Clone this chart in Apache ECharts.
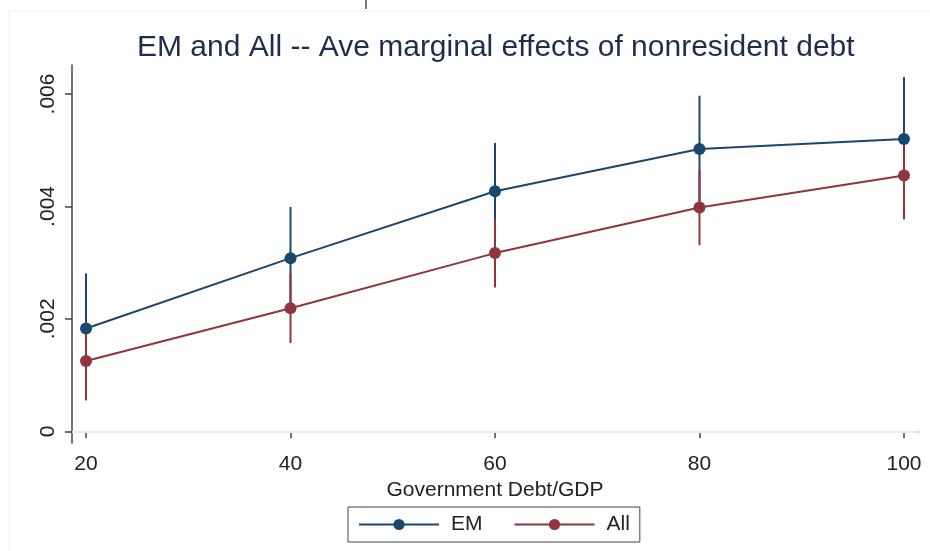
<!DOCTYPE html>
<html>
<head>
<meta charset="utf-8">
<script src="https://cdn.jsdelivr.net/npm/echarts@6/dist/echarts.min.js"></script>
<style>
  html, body { margin: 0; padding: 0; background: #fff; }
  #chart { width: 930px; height: 551px; }
</style>
</head>
<body>
<div id="chart"></div>
<script>
// debt/GDP levels on the x axis
var debtLevels = [20, 40, 60, 80, 100];

// EM: average marginal effect and confidence bounds
var emMean = [0.00183, 0.00308, 0.00427, 0.00502, 0.00520];
var emLow  = [0.00085, 0.00217, 0.00341, 0.00407, 0.00410];
var emHigh = [0.00281, 0.00399, 0.00513, 0.00597, 0.00630];

// All countries
var allMean = [0.00125, 0.00219, 0.00317, 0.00398, 0.00455];
var allLow  = [0.00055, 0.00157, 0.00256, 0.00331, 0.00377];
var allHigh = [0.00195, 0.00281, 0.00378, 0.00465, 0.00533];

var xTicks = [20, 40, 60, 80, 100];
var yTicks = [0, 0.002, 0.004, 0.006];

var EM_COLOR = '#1a476f';
var ALL_COLOR = '#90353b';

function pairs(xs, ys) {
    return xs.map(function (x, i) { return [x, ys[i]]; });
}

function ranges(xs, lo, hi) {
    return xs.map(function (x, i) { return [x, lo[i], hi[i]]; });
}

function errorBars(color) {
    return function (params, api) {
        var top = api.coord([api.value(0), api.value(2)]);
        var bottom = api.coord([api.value(0), api.value(1)]);
        return {
            type: 'line',
            shape: {x1: top[0], y1: top[1], x2: bottom[0], y2: bottom[1]},
            style: {stroke: color, lineWidth: 2}
        };
    };
}

var chart = echarts.init(document.getElementById('chart'));

var option = {
    animation: false,
    backgroundColor: '#fff',
    textStyle: {fontFamily: 'Liberation Sans, Arial, sans-serif'},
    graphic: [
        {
            type: 'rect', silent: true, z: -10,
            shape: {x: 9, y: 11, width: 940, height: 560},
            style: {fill: null, stroke: '#f0f0f0', lineWidth: 1}
        },
        {
            type: 'line', silent: true,
            shape: {x1: 366, y1: 0, x2: 366, y2: 9},
            style: {stroke: '#777', lineWidth: 2}
        }
    ],
    title: {
        text: 'EM and All -- Ave marginal effects of nonresident debt',
        left: 132,
        top: 28,
        textStyle: {
            fontSize: 30,
            fontWeight: 'normal',
            color: '#1e2d4f',
            fontFamily: 'Liberation Sans, Arial, sans-serif'
        }
    },
    legend: {
        data: ['EM', 'All'],
        left: 348,
        top: 507,
        padding: [7, 10, 7, 10],
        itemWidth: 80,
        itemHeight: 14,
        itemGap: 31,
        borderColor: '#444',
        borderWidth: 1,
        textStyle: {fontSize: 21, color: '#222', padding: [0, 0, 0, 7]}
    },
    grid: {left: 72, right: 12, top: 65, bottom: 108},
    xAxis: {
        type: 'value',
        min: 18.63,
        max: 101.37,
        name: 'Government Debt/GDP',
        nameLocation: 'middle',
        nameGap: 33,
        nameTextStyle: {fontSize: 21, color: '#222'},
        axisLine: {show: true, lineStyle: {color: '#444', width: 1.5}},
        axisTick: {show: true, length: 7, customValues: xTicks, lineStyle: {color: '#444', width: 1.5}},
        axisLabel: {customValues: xTicks, fontSize: 21, color: '#222', margin: 11},
        splitLine: {show: false}
    },
    yAxis: {
        type: 'value',
        min: -0.000208,
        max: 0.006516,
        axisLine: {show: true, lineStyle: {color: '#444', width: 1.5}},
        axisTick: {show: true, length: 7, customValues: yTicks, lineStyle: {color: '#444', width: 1.5}},
        axisLabel: {
            customValues: yTicks,
            rotate: 90,
            fontSize: 21,
            color: '#222',
            margin: 13,
            formatter: function (v) {
                return v === 0 ? '0' : String(+v.toFixed(3)).replace(/^0/, '');
            }
        },
        splitLine: {show: false}
    },
    series: [
        {
            name: 'grid',
            type: 'line',
            data: [],
            silent: true,
            z: 0,
            markLine: {
                silent: true,
                symbol: 'none',
                label: {show: false},
                lineStyle: {color: '#e6eff2', width: 1.5, type: 'solid'},
                data: yTicks.map(function (t) { return {yAxis: t}; })
            }
        },
        {
            name: 'EM ci',
            type: 'custom',
            z: 1,
            renderItem: errorBars(EM_COLOR),
            encode: {x: 0, y: [1, 2]},
            data: ranges(debtLevels, emLow, emHigh)
        },
        {
            name: 'All ci',
            type: 'custom',
            z: 2,
            renderItem: errorBars(ALL_COLOR),
            encode: {x: 0, y: [1, 2]},
            data: ranges(debtLevels, allLow, allHigh)
        },
        {
            name: 'EM',
            type: 'line',
            z: 4,
            color: EM_COLOR,
            symbol: 'circle',
            symbolSize: 12,
            showAllSymbol: true,
            lineStyle: {width: 2, color: EM_COLOR},
            itemStyle: {color: EM_COLOR},
            data: pairs(debtLevels, emMean)
        },
        {
            name: 'All',
            type: 'line',
            z: 3,
            color: ALL_COLOR,
            symbol: 'circle',
            symbolSize: 12,
            showAllSymbol: true,
            lineStyle: {width: 2, color: ALL_COLOR},
            itemStyle: {color: ALL_COLOR},
            data: pairs(debtLevels, allMean)
        }
    ]
};

chart.setOption(option);
</script>
</body>
</html>
